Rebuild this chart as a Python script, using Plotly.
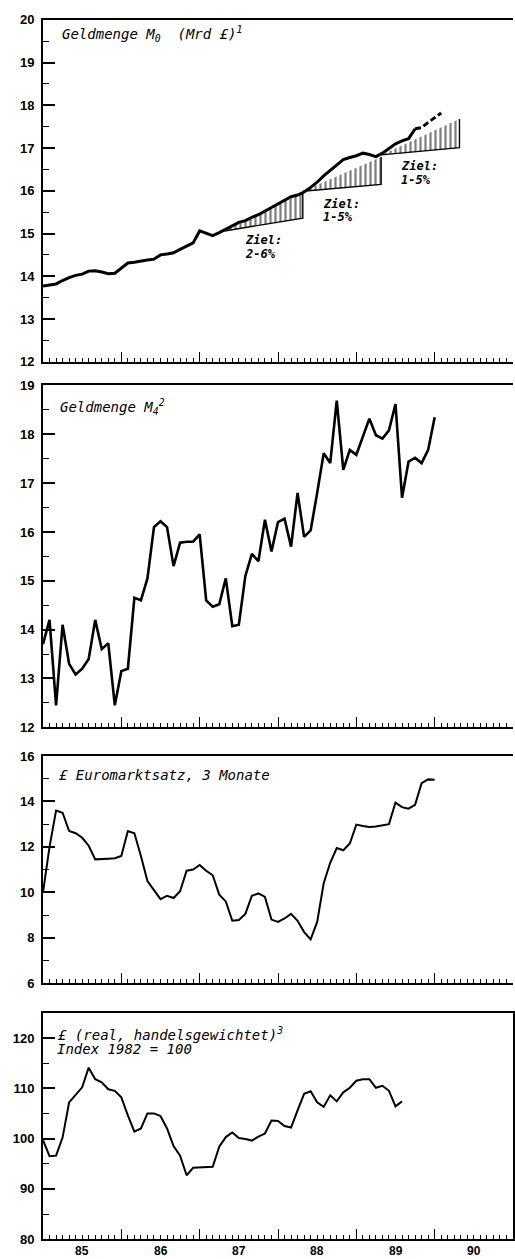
import plotly.graph_objects as go

# ---------------- data (monthly, month 0 = Jan 1985) ----------------
year_labels = ["85", "86", "87", "88", "89", "90"]

m0_values = [13.77, 13.79, 13.82, 13.90, 13.97, 14.02, 14.05, 14.12, 14.13, 14.10, 14.06, 14.07,
             14.18, 14.31, 14.33, 14.36, 14.38, 14.40, 14.50, 14.52, 14.55, 14.63, 14.70, 14.78,
             15.06, 15.00, 14.95, 15.02, 15.10, 15.17, 15.26, 15.30, 15.38, 15.44, 15.52, 15.60,
             15.68, 15.78, 15.86, 15.90, 15.97, 16.08, 16.20, 16.35, 16.48, 16.62, 16.73, 16.78,
             16.82, 16.88, 16.85, 16.80, 16.88, 16.99, 17.10, 17.17, 17.22, 17.45, 17.48, 17.60,
             17.72, 17.82]
m0_provisional_from = 57

m4_values = [13.7, 14.2, 12.45, 14.1, 13.3, 13.08, 13.2, 13.4, 14.2, 13.6, 13.72, 12.45,
             13.15, 13.2, 14.65, 14.6, 15.05, 16.1, 16.22, 16.1, 15.3, 15.78, 15.8, 15.8,
             15.95, 14.6, 14.47, 14.52, 15.05, 14.07, 14.1, 15.1, 15.55, 15.4, 16.25, 15.6,
             16.2, 16.27, 15.7, 16.8, 15.9, 16.03, 16.8, 17.61, 17.41, 18.69, 17.27, 17.68,
             17.58, 17.95, 18.32, 17.98, 17.91, 18.08, 18.62, 16.70, 17.44, 17.52, 17.41, 17.68,
             18.35]

euro_values = [10.0, 12.0, 13.6, 13.5, 12.7, 12.6, 12.4, 12.05, 11.45, 11.45, 11.48, 11.5,
               11.6, 12.7, 12.6, 11.6, 10.5, 10.1, 9.7, 9.85, 9.75, 10.05, 10.95, 11.0,
               11.2, 10.95, 10.75, 9.9, 9.6, 8.75, 8.78, 9.05, 9.85, 9.95, 9.8, 8.8,
               8.7, 8.85, 9.05, 8.75, 8.25, 7.93, 8.7, 10.4, 11.3, 11.95, 11.85, 12.15,
               12.98, 12.92, 12.87, 12.9, 12.95, 13.0, 13.95, 13.75, 13.68, 13.85, 14.8, 14.97,
               14.95]

real_values = [99.7, 96.5, 96.6, 100.2, 107.2, 108.6, 110.2, 114.1, 111.8, 111.2, 109.8, 109.5,
               108.2, 104.6, 101.4, 102.0, 105.0, 105.0, 104.5, 102.0, 98.5, 96.6, 92.7, 94.2,
               94.3, 94.3, 94.4, 98.4, 100.3, 101.2, 100.1, 99.9, 99.6, 100.4, 101.0, 103.6,
               103.5, 102.5, 102.2, 105.6, 108.9, 109.4, 107.2, 106.3, 108.6, 107.4, 109.2, 110.1,
               111.5, 111.8, 111.8, 110.1, 110.5, 109.5, 106.4, 107.4]

# M0 target corridors (start month, end month, base level, growth range %)
target_start = [27.8, 39.8, 51.8]
target_end = [39.8, 51.8, 63.8]
target_base = [15.06, 15.99, 16.84]
target_low = [2, 1, 1]
target_high = [6, 5, 5]
target_text = ["2-6%", "1-5%", "1-5%"]

# ---------------- figure ----------------
W, H = 515, 1259
L, R = 43, 1
plot_w = W - L - R

def py(p):
    return 1 - p / H

def px(p):
    return (p - L) / plot_w

panels = [(13, 359), (383, 729), (758, 988), (1018, 1247)]
yranges = [[12, 20], [12, 19], [6, 16], [80, 125]]
ydticks = [1, 1, 2, 10]
yminor = [0.5, 0.5, 1, 5]

fig = go.Figure()

# target corridors
for i in range(len(target_start)):
    s, e, b = target_start[i], target_end[i], target_base[i]
    lo = b * (1 + target_low[i] / 100)
    hi = b * (1 + target_high[i] / 100)
    fig.add_trace(go.Scatter(
        x=[s, e, e, s], y=[b, lo, hi, b], mode="lines", fill="toself",
        fillcolor="rgba(0,0,0,0)",
        fillpattern=dict(shape="|", size=5, solidity=0.45, fgcolor="black",
                         bgcolor="white", fillmode="overlay"),
        line=dict(width=0, color="black"), xaxis="x", yaxis="y",
        showlegend=False, hoverinfo="skip"))
    fig.add_trace(go.Scatter(
        x=[s, e, e], y=[b, lo, hi], mode="lines",
        line=dict(width=1.4, color="black"), xaxis="x", yaxis="y",
        showlegend=False, hoverinfo="skip"))

months_m0 = list(range(len(m0_values)))
k = m0_provisional_from
fig.add_trace(go.Scatter(x=months_m0[:k + 1], y=m0_values[:k + 1], mode="lines",
                         line=dict(color="black", width=3), xaxis="x", yaxis="y",
                         showlegend=False))
fig.add_trace(go.Scatter(x=months_m0[k:], y=m0_values[k:], mode="lines",
                         line=dict(color="black", width=3, dash="6px,3px"),
                         xaxis="x", yaxis="y", showlegend=False))

fig.add_trace(go.Scatter(x=list(range(len(m4_values))), y=m4_values, mode="lines",
                         line=dict(color="black", width=2.6), xaxis="x2", yaxis="y2",
                         showlegend=False))
fig.add_trace(go.Scatter(x=list(range(len(euro_values))), y=euro_values, mode="lines",
                         line=dict(color="black", width=2), xaxis="x3", yaxis="y3",
                         showlegend=False))
fig.add_trace(go.Scatter(x=list(range(len(real_values))), y=real_values, mode="lines",
                         line=dict(color="black", width=2), xaxis="x4", yaxis="y4",
                         showlegend=False))

tickfont = dict(family="Liberation Sans", size=13, color="black", weight="bold")
layout = {}
for i, (top, bot) in enumerate(panels):
    n = "" if i == 0 else str(i + 1)
    layout["xaxis" + n] = dict(
        domain=[0, 1], range=[0, 72], anchor="y" + n,
        showline=True, linecolor="black", linewidth=2, mirror=True,
        ticks="inside", tick0=0, dtick=12, ticklen=10, tickwidth=1.3, tickcolor="black",
        minor=dict(ticks="inside", dtick=1, ticklen=4, tickwidth=1.1, tickcolor="black"),
        showticklabels=False, showgrid=False, zeroline=False, fixedrange=True)
    layout["yaxis" + n] = dict(
        domain=[py(bot), py(top)], range=yranges[i], anchor="x" + n,
        showline=True, linecolor="black", linewidth=2, mirror=(i == 3),
        ticks="inside", tick0=yranges[i][0], dtick=ydticks[i], ticklen=12, tickwidth=1.5,
        tickcolor="black",
        minor=dict(ticks="inside", dtick=yminor[i], ticklen=6, tickwidth=1.3, tickcolor="black"),
        tickfont=tickfont, ticklabelstandoff=4,
        showgrid=False, zeroline=False, fixedrange=True)

tfont = dict(family="DejaVu Sans Mono", size=14, color="black", style="italic")
zfont = dict(family="DejaVu Sans Mono", size=12, color="black", style="italic", weight="bold")
ann = []
def A(x, y, text, font, xanchor="left", yanchor="middle", xref="paper", yref="paper"):
    ann.append(dict(x=x, y=y, text=text, font=font, xanchor=xanchor, yanchor=yanchor,
                    xref=xref, yref=yref, showarrow=False))

A(px(60), py(27), "Geldmenge M<sub>0</sub>  (Mrd £)<sup>1</sup>", tfont)
A(px(58), py(405), "Geldmenge M<sub>4</sub><sup>2</sup>", tfont)
A(px(56), py(777), "£ Euromarktsatz, 3 Monate", tfont)
A(px(55), py(1039), "£ (real, handelsgewichtet)<sup>3</sup>", tfont)
A(px(55), py(1055), "Index 1982 = 100", tfont)

ziel_pos = [(243, 236, 250), (322, 199, 213), (400, 161, 175)]
for (zx, zy1, zy2), t in zip(ziel_pos, target_text):
    A(px(zx), py(zy1), "Ziel:", zfont)
    A(px(zx), py(zy2), t, zfont)

for j, lab in enumerate(year_labels):
    A(6 + 12 * j, py(1250), lab, dict(family="Liberation Sans", size=12, color="black",
                                       weight="bold"),
      xanchor="center", yanchor="top", xref="x4")

fig.update_layout(width=W, height=H, margin=dict(l=L, r=R, t=0, b=0),
                  paper_bgcolor="white", plot_bgcolor="white",
                  annotations=ann, showlegend=False, **layout)

fig.write_html("out.html", config={"displayModeBar": False},
               post_script="document.body.style.margin='0px';")
